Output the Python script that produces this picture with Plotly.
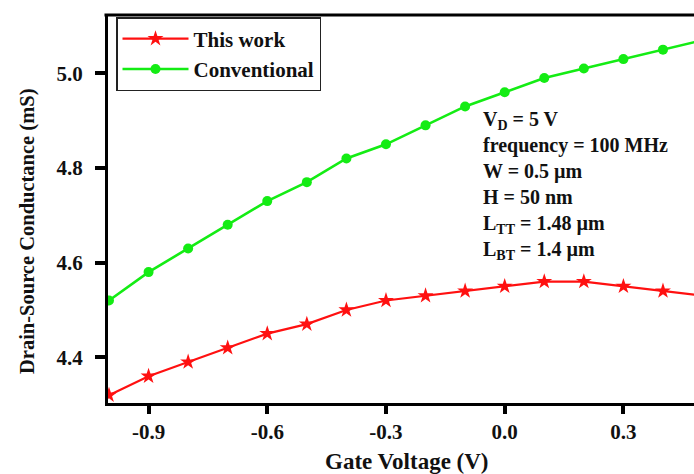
import plotly.graph_objects as go

gate_voltage = [-1.0, -0.9, -0.8, -0.7, -0.6, -0.5, -0.4, -0.3, -0.2, -0.1,
                0.0, 0.1, 0.2, 0.3, 0.4, 0.5]
this_work = [4.32, 4.36, 4.39, 4.42, 4.45, 4.47, 4.50, 4.52, 4.53, 4.54,
             4.55, 4.56, 4.56, 4.55, 4.54, 4.53]
conventional = [4.52, 4.58, 4.63, 4.68, 4.73, 4.77, 4.82, 4.85, 4.89, 4.93,
                4.96, 4.99, 5.01, 5.03, 5.05, 5.07]

x_tickvals = [-0.9, -0.6, -0.3, 0.0, 0.3]
x_ticktext = ["-0.9", "-0.6", "-0.3", "0.0", "0.3"]
y_tickvals = [4.4, 4.6, 4.8, 5.0]
y_ticktext = ["4.4", "4.6", "4.8", "5.0"]

info_lines = [
    "V<sub>D</sub> = 5 V",
    "frequency = 100 MHz",
    "W = 0.5 \u00b5m",
    "H = 50 nm",
    "L<sub>TT</sub> = 1.48 \u00b5m",
    "L<sub>BT</sub> = 1.4 \u00b5m",
]

W, H = 694, 474
L, R, T, B = 108, 0, 15, 71
plot_h = H - T - B

FONT = "Liberation Serif, Times New Roman, serif"
RED = "#ff1010"
GREEN = "#14ec14"
TXT = "#111111"

fig = go.Figure()
fig.add_trace(go.Scatter(
    x=gate_voltage, y=this_work, name="<b>This work</b>", mode="lines+markers",
    line=dict(color=RED, width=2.2),
    marker=dict(symbol="star", size=12, color=RED),
))
fig.add_trace(go.Scatter(
    x=gate_voltage, y=conventional, name="<b>Conventional</b>", mode="lines+markers",
    line=dict(color=GREEN, width=2.6),
    marker=dict(symbol="circle", size=10, color=GREEN),
))

def py(ypx):
    return (H - B - ypx) / plot_h

def px(xpx):
    return (xpx - L) / (W - L - R)

fig.add_annotation(
    x=px(481), y=py(185), xref="paper", yref="paper",
    xanchor="left", yanchor="middle", showarrow=False, align="left",
    text="<br>".join("<b>" + t + "</b>" for t in info_lines),
    font=dict(family=FONT, size=20, color=TXT),
)

# axis titles
fig.add_annotation(
    x=px(407), y=py(462), xref="paper", yref="paper",
    xanchor="center", yanchor="middle", showarrow=False,
    text="<b>Gate Voltage (V)</b>", font=dict(family=FONT, size=23, color=TXT),
)
fig.add_annotation(
    x=px(27), y=py(232), xref="paper", yref="paper",
    xanchor="center", yanchor="middle", showarrow=False, textangle=-90,
    text="<b>Drain-Source Conductance (mS)</b>", font=dict(family=FONT, size=20.5, color=TXT),
)

# top frame line
fig.add_shape(type="line", xref="paper", yref="paper", x0=-0.006, x1=1.0, y0=1, y1=1,
              line=dict(color="black", width=3))

fig.update_layout(
    width=W, height=H,
    margin=dict(l=L, r=R, t=T, b=B),
    paper_bgcolor="white", plot_bgcolor="white",
    font=dict(family=FONT, color=TXT),
    showlegend=True,
    legend=dict(
        x=px(116), y=py(17), xanchor="left", yanchor="top",
        bgcolor="white", bordercolor="#222222", borderwidth=1.5,
        font=dict(family=FONT, size=21, color=TXT),
        itemwidth=66, tracegroupgap=0,
    ),
    xaxis=dict(
        range=[-1.0025, 0.4784], showgrid=False, zeroline=False,
        showline=True, linecolor="black", linewidth=3,
        ticks="outside", ticklen=8, tickwidth=4, tickcolor="black",
        tickvals=x_tickvals, ticktext=x_ticktext,
        tickfont=dict(family=FONT, size=21, color=TXT, weight="bold"),
        ticklabelstandoff=0,
    ),
    yaxis=dict(
        range=[4.3034, 5.1232], showgrid=False, zeroline=False,
        showline=True, linecolor="black", linewidth=3,
        ticks="outside", ticklen=10, tickwidth=4, tickcolor="black",
        tickvals=y_tickvals, ticktext=y_ticktext,
        tickfont=dict(family=FONT, size=21, color=TXT, weight="bold"),
        ticklabelstandoff=8,
    ),
)

fig.write_html(
    "out.html",
    config={"displayModeBar": False},
    post_script="document.body.style.margin='0';document.body.style.overflow='hidden';",
)
